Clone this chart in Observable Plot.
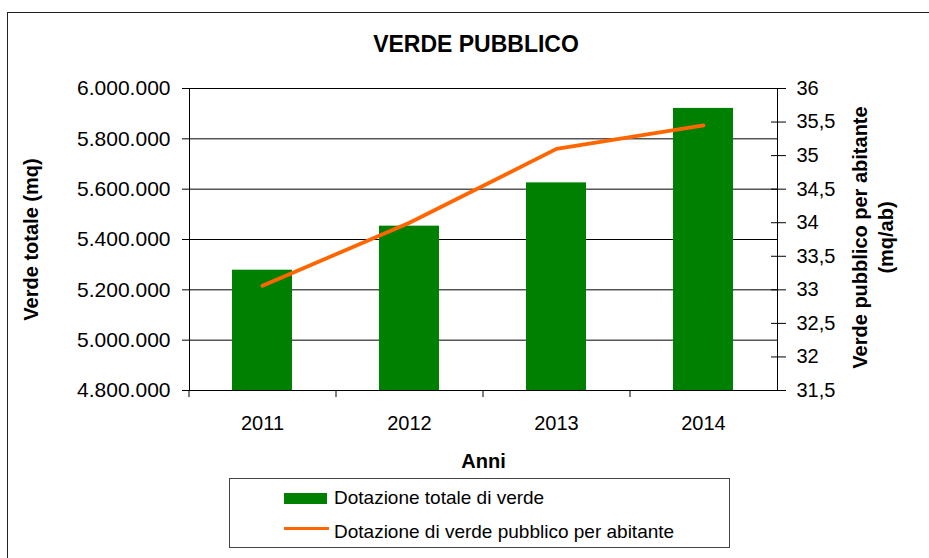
<!DOCTYPE html>
<html>
<head>
<meta charset="utf-8">
<script src="https://cdn.jsdelivr.net/npm/d3@7"></script>
<script src="https://cdn.jsdelivr.net/npm/@observablehq/plot@0.6"></script>
<style>
  html, body { margin: 0; padding: 0; background: #fff; }
  #wrap { position: relative; width: 929px; height: 558px; overflow: hidden; font-family: "Liberation Sans", Arial, sans-serif; }
  #frameBorder { position: absolute; left: 7px; top: 12px; width: 940px; height: 560px; border-top: 1.5px solid #222; border-left: 1.5px solid #222; }
  #chart { position: absolute; left: 0; top: 0; }
  #legend { position: absolute; left: 229px; top: 478px; width: 499px; height: 68px; border: 1.5px solid #444; background: #fff; }
  .sw { position: absolute; }
  .lt { position: absolute; font-size: 19px; line-height: 22px; white-space: nowrap; color: #000; }
</style>
</head>
<body>
<div id="wrap">
  <div id="frameBorder"></div>
  <div id="chart"></div>
  <div id="legend">
    <div class="sw" style="left:54px; top:14px; width:43px; height:11px; background:#008000;"></div>
    <div class="lt" style="left:104px; top:8px;">Dotazione totale di verde</div>
    <div class="sw" style="left:54px; top:48px; width:45px; height:3px; background:#FF6600;"></div>
    <div class="lt" style="left:104px; top:42px;">Dotazione di verde pubblico per abitante</div>
  </div>
</div>
<script>
const years = ["2011", "2012", "2013", "2014"];
const totale = [5278000, 5453000, 5625000, 5921000];
const perAbitante = [33.06, 34.0, 35.1, 35.45];
const leftTicks = [4800000, 5000000, 5200000, 5400000, 5600000, 5800000, 6000000];
const rightTicks = [31.5, 32, 32.5, 33, 33.5, 34, 34.5, 35, 35.5, 36];

const leftDomain = [4800000, 6000000];
const rightDomain = [31.5, 36];
const toLeft = v => leftDomain[0] + (v - rightDomain[0]) / (rightDomain[1] - rightDomain[0]) * (leftDomain[1] - leftDomain[0]);
const fromLeft = v => rightDomain[0] + (v - leftDomain[0]) / (leftDomain[1] - leftDomain[0]) * (rightDomain[1] - rightDomain[0]);

const data = years.map((y, i) => ({ year: y, totale: totale[i], per: perAbitante[i] }));
const fmtLeft = d => d3.format(",")(d).replace(/,/g, ".");
const fmtRight = d => String(Math.round(fromLeft(d) * 10) / 10).replace(".", ",");

const chart = Plot.plot({
  width: 929,
  height: 558,
  marginLeft: 189,
  marginRight: 152,
  marginTop: 88,
  marginBottom: 168,
  style: { fontFamily: "'Liberation Sans', Arial, sans-serif", fontSize: "20px", background: "transparent", color: "#000" },
  x: { domain: years, paddingInner: 0.59, paddingOuter: 0.295, label: null },
  y: { domain: leftDomain, label: null },
  marks: [
    Plot.ruleY(leftTicks, { stroke: "#000", strokeWidth: 1 }),
    Plot.barY(data, { x: "year", y1: leftDomain[0], y2: "totale", fill: "#008000" }),
    Plot.line(data, { x: "year", y: d => toLeft(d.per), stroke: "#FF6600", strokeWidth: 3.8 }),
    Plot.frame({ stroke: "#000", strokeWidth: 1 }),
    Plot.axisY({ ticks: leftTicks, tickSize: 7, tickPadding: 12, tickFormat: fmtLeft, fontSize: 21, label: null }),
    Plot.axisY(rightTicks.map(toLeft), { anchor: "right", tickSize: 8, tickPadding: 11, tickFormat: fmtRight, fontSize: 20, label: null }),
    Plot.ruleY(rightTicks.map(toLeft), { insetLeft: 582, stroke: "#000" }),
    Plot.axisX({ tickSize: 0, tickPadding: 25, fontSize: 20, label: null }),
    Plot.axisX({ tickSize: 7, tickFormat: () => "", dx: -73.5, label: null }),
    Plot.text(["VERDE PUBBLICO"], { frameAnchor: "top", dx: -7.5, dy: -44, fontSize: 23, fontWeight: "bold", textAnchor: "middle", lineAnchor: "middle" }),
    Plot.text(["Verde totale (mq)"], { frameAnchor: "left", dx: -158, dy: 0, rotate: -90, fontSize: 20, fontWeight: "bold", textAnchor: "middle", lineAnchor: "middle" }),
    Plot.text(["Verde pubblico per abitante\n(mq/ab)"], { frameAnchor: "right", dx: 94, dy: -2, rotate: -90, fontSize: 20, fontWeight: "bold", textAnchor: "middle", lineAnchor: "middle", lineHeight: 1.3 }),
    Plot.text(["Anni"], { frameAnchor: "bottom", dx: 0, dy: 71, fontSize: 20, fontWeight: "bold", textAnchor: "middle", lineAnchor: "middle" })
  ]
});
document.getElementById("chart").appendChild(chart);
</script>
</body>
</html>
